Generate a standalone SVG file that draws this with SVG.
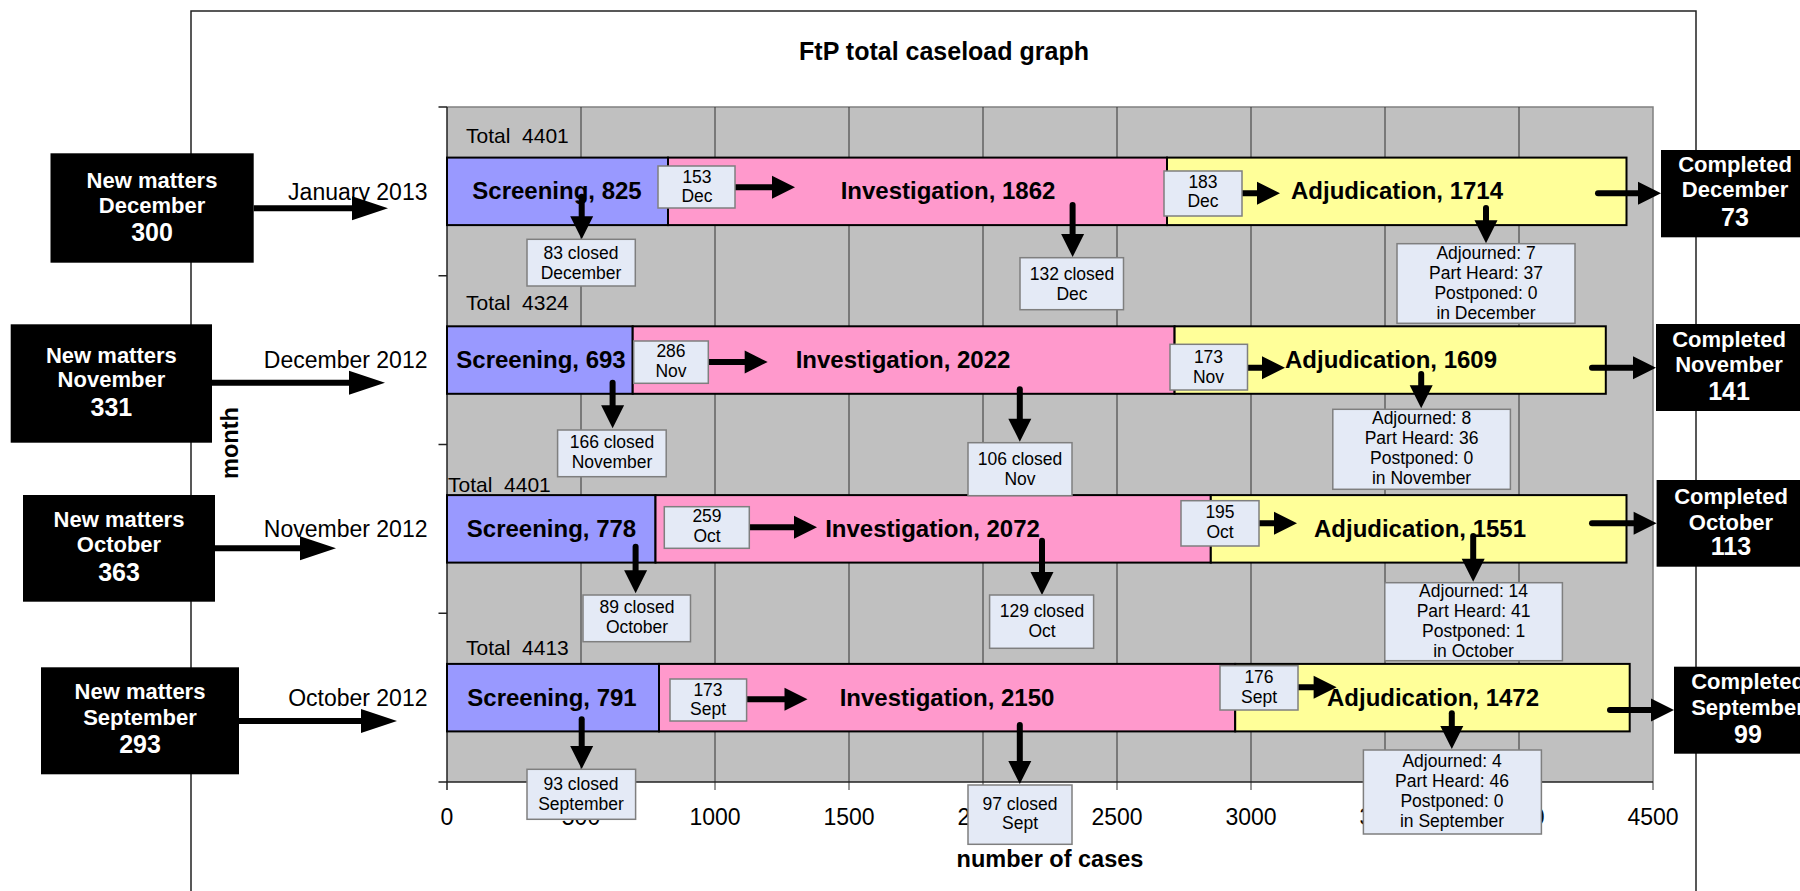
<svg xmlns="http://www.w3.org/2000/svg" width="1800" height="891" viewBox="0 0 1800 891">
<style>
text{font-family:"Liberation Sans",Arial,sans-serif;fill:#000}
.bar{stroke:#000;stroke-width:2}
.scr{fill:#9999FF}.inv{fill:#FF99CC}.adj{fill:#FFFF99}
.bl{font-size:24px;font-weight:bold;text-anchor:middle}
.mon{font-size:23px;text-anchor:end}
.tot{font-size:21px;white-space:pre}
.ax{font-size:23px;text-anchor:middle}
.axt{font-size:23.5px;font-weight:bold;text-anchor:middle}
.cb{fill:#E4EAF6;stroke:#7F7F7F;stroke-width:1.5}
.ct{font-size:17.5px;text-anchor:middle}
.bk{fill:#000}
.wt{fill:#fff;font-size:22px;font-weight:bold;text-anchor:middle}
.wn{fill:#fff;font-size:25px;font-weight:bold;text-anchor:middle}
.grid{stroke:#333;stroke-width:1}
.ar{stroke:#000;stroke-width:6;fill:none;stroke-linecap:round}
.arL{stroke:#000;stroke-width:6;fill:none}
</style>
<defs>
<marker id="ah" markerUnits="userSpaceOnUse" markerWidth="24" markerHeight="24" viewBox="0 -12 24 24" refX="0" refY="0" orient="auto" overflow="visible"><path d="M0,-11.5 L23,0 L0,11.5 z" fill="#000"/></marker>
<marker id="ahL" markerUnits="userSpaceOnUse" markerWidth="37" markerHeight="26" viewBox="0 -13 37 26" refX="0" refY="0" orient="auto" overflow="visible"><path d="M0,-12 L36,0 L0,12 z" fill="#000"/></marker>
</defs>
<rect width="1800" height="891" fill="#fff"/>
<!-- chart frame -->
<path d="M191,900 V11 H1696 V900" fill="none" stroke="#222" stroke-width="1.5"/>
<text x="944" y="60" font-size="25" font-weight="bold" text-anchor="middle">FtP total caseload graph</text>
<!-- plot area -->
<g id="plot">
<rect x="447" y="107" width="1206" height="675" fill="#C0C0C0"/>
<path d="M447,107 H1653 V782" fill="none" stroke="#808080" stroke-width="1.5"/>
<g class="grid">
<path d="M581,107V790M715,107V790M849,107V790M983,107V790M1117,107V790M1251,107V790M1385,107V790M1519,107V790M1653,782V790"/>
</g>
<path d="M447,107 V782 H1653" fill="none" stroke="#222" stroke-width="1.5"/>
<path d="M438.5,107H447M438.5,275.75H447M438.5,444.5H447M438.5,613.25H447M438.5,782H447M447,782V790" stroke="#222" stroke-width="1.5"/>
<g class="ax">
<text x="447" y="825">0</text><text x="581" y="825">500</text><text x="715" y="825">1000</text><text x="849" y="825">1500</text><text x="983" y="825">2000</text><text x="1117" y="825">2500</text><text x="1251" y="825">3000</text><text x="1385" y="825">3500</text><text x="1519" y="825">4000</text><text x="1653" y="825">4500</text>
</g>
<text class="axt" x="1050" y="866.7">number of cases</text>
<text class="axt" transform="translate(238,443) rotate(-90)">month</text>
</g>
<!-- rows -->
<g id="row-jan2013">
<text class="tot" x="466" y="142.7">Total  4401</text>
<rect class="bar scr" x="447" y="157.6" width="221" height="67.5"/>
<rect class="bar inv" x="668" y="157.6" width="499" height="67.5"/>
<rect class="bar adj" x="1167" y="157.6" width="459.5" height="67.5"/>
<text class="bl" x="557" y="199">Screening, 825</text>
<text class="bl" x="948" y="199">Investigation, 1862</text>
<text class="bl" x="1397" y="199">Adjudication, 1714</text>
<text class="mon" x="427.5" y="200">January 2013</text>
</g>
<g id="row-dec2012">
<text class="tot" x="466" y="310">Total  4324</text>
<rect class="bar scr" x="447" y="326.3" width="185.7" height="67.5"/>
<rect class="bar inv" x="632.7" y="326.3" width="541.9" height="67.5"/>
<rect class="bar adj" x="1174.6" y="326.3" width="431.2" height="67.5"/>
<text class="bl" x="541" y="368">Screening, 693</text>
<text class="bl" x="903" y="368">Investigation, 2022</text>
<text class="bl" x="1391" y="368">Adjudication, 1609</text>
<text class="mon" x="427.5" y="368.3">December 2012</text>
</g>
<g id="row-nov2012">
<text class="tot" x="448" y="492.3">Total  4401</text>
<rect class="bar scr" x="447" y="495.1" width="208.5" height="67.5"/>
<rect class="bar inv" x="655.5" y="495.1" width="555.3" height="67.5"/>
<rect class="bar adj" x="1210.8" y="495.1" width="415.7" height="67.5"/>
<text class="bl" x="551.5" y="537">Screening, 778</text>
<text class="bl" x="932.5" y="537">Investigation, 2072</text>
<text class="bl" x="1420" y="537">Adjudication, 1551</text>
<text class="mon" x="427.5" y="537.3">November 2012</text>
</g>
<g id="row-oct2012">
<text class="tot" x="466" y="655">Total  4413</text>
<rect class="bar scr" x="447" y="663.9" width="212" height="67.5"/>
<rect class="bar inv" x="659" y="663.9" width="576.2" height="67.5"/>
<rect class="bar adj" x="1235.2" y="663.9" width="394.5" height="67.5"/>
<text class="bl" x="552" y="706">Screening, 791</text>
<text class="bl" x="947" y="706">Investigation, 2150</text>
<text class="bl" x="1433" y="706">Adjudication, 1472</text>
<text class="mon" x="427.5" y="706">October 2012</text>
</g>
<!-- connectors -->
<g id="connectors">
<path class="arL" d="M253.7,208.3H352" marker-end="url(#ahL)"/>
<path class="arL" d="M212,382.7H349" marker-end="url(#ahL)"/>
<path class="arL" d="M215,548.3H300" marker-end="url(#ahL)"/>
<path class="arL" d="M239,721H361" marker-end="url(#ahL)"/>
<path class="ar" d="M734,187.3H772" marker-end="url(#ah)"/>
<path class="ar" d="M1242,193.3H1257" marker-end="url(#ah)"/>
<path class="ar" d="M1598,193.3H1638" marker-end="url(#ah)"/>
<path class="ar" d="M581.7,196.7V216.3" marker-end="url(#ah)"/>
<path class="ar" d="M1072.6,205V234" marker-end="url(#ah)"/>
<path class="ar" d="M1486,208V220.3" marker-end="url(#ah)"/>
<path class="ar" d="M708,362H744.7" marker-end="url(#ah)"/>
<path class="ar" d="M1247,367.7H1262" marker-end="url(#ah)"/>
<path class="ar" d="M1592,367.7H1633" marker-end="url(#ah)"/>
<path class="ar" d="M612.6,382.7V405.3" marker-end="url(#ah)"/>
<path class="ar" d="M1019.8,389.3V418.7" marker-end="url(#ah)"/>
<path class="ar" d="M1421.2,374V385.3" marker-end="url(#ah)"/>
<path class="ar" d="M749,527.3H794" marker-end="url(#ah)"/>
<path class="ar" d="M1259,523.3H1274" marker-end="url(#ah)"/>
<path class="ar" d="M1592,523.3H1633.6" marker-end="url(#ah)"/>
<path class="ar" d="M635.6,546.7V570.3" marker-end="url(#ah)"/>
<path class="ar" d="M1042,540.7V572" marker-end="url(#ah)"/>
<path class="ar" d="M1473.2,536V558.7" marker-end="url(#ah)"/>
<path class="ar" d="M746,699.3H784.5" marker-end="url(#ah)"/>
<path class="ar" d="M1298,687.3H1313.6" marker-end="url(#ah)"/>
<path class="ar" d="M1610,710H1651" marker-end="url(#ah)"/>
<path class="ar" d="M581.7,719.3V746" marker-end="url(#ah)"/>
<path class="ar" d="M1019.8,725V761" marker-end="url(#ah)"/>
<path class="ar" d="M1451.8,713.3V726" marker-end="url(#ah)"/>
</g>
<!-- new matters -->
<g id="new-dec"><rect class="bk" x="50.5" y="153.3" width="203.2" height="109.4"/><text class="wt" x="152" y="188.3">New matters</text><text class="wt" x="152" y="213.3">December</text><text class="wn" x="152" y="240.7">300</text></g>
<g id="new-nov"><rect class="bk" x="10.7" y="324.3" width="201.3" height="118.4"/><text class="wt" x="111.4" y="362.7">New matters</text><text class="wt" x="111.4" y="387.3">November</text><text class="wn" x="111.4" y="415.7">331</text></g>
<g id="new-oct"><rect class="bk" x="23" y="495" width="192" height="106.7"/><text class="wt" x="119" y="527.3">New matters</text><text class="wt" x="119" y="552.3">October</text><text class="wn" x="119" y="580.7">363</text></g>
<g id="new-sep"><rect class="bk" x="41" y="667.3" width="198" height="107"/><text class="wt" x="140" y="699.3">New matters</text><text class="wt" x="140" y="725">September</text><text class="wn" x="140" y="752.7">293</text></g>
<!-- completed -->
<g id="comp-dec"><rect class="bk" x="1661" y="150" width="148" height="87.3"/><text class="wt" x="1735" y="171.7">Completed</text><text class="wt" x="1735" y="197.3">December</text><text class="wn" x="1735" y="226">73</text></g>
<g id="comp-nov"><rect class="bk" x="1656" y="324" width="148" height="87"/><text class="wt" x="1729" y="346.7">Completed</text><text class="wt" x="1729" y="371.7">November</text><text class="wn" x="1729" y="400">141</text></g>
<g id="comp-oct"><rect class="bk" x="1656.6" y="480" width="148" height="86.7"/><text class="wt" x="1731" y="504">Completed</text><text class="wt" x="1731" y="530">October</text><text class="wn" x="1731" y="555">113</text></g>
<g id="comp-sep"><rect class="bk" x="1674" y="666.7" width="148" height="87"/><text class="wt" x="1748" y="689.3">Completed</text><text class="wt" x="1748" y="715">September</text><text class="wn" x="1748" y="742.7">99</text></g>
<!-- callouts row 1 -->
<g id="c-153-dec"><rect class="cb" x="658" y="166" width="77" height="42"/><text class="ct" x="697" y="182.7">153</text><text class="ct" x="697" y="202.3">Dec</text></g>
<g id="c-83-closed"><rect class="cb" x="527" y="239.3" width="108.3" height="46.7"/><text class="ct" x="581" y="258.5">83 closed</text><text class="ct" x="581" y="278.5">December</text></g>
<g id="c-132-closed"><rect class="cb" x="1020" y="257.7" width="103.5" height="52"/><text class="ct" x="1072" y="280">132 closed</text><text class="ct" x="1072" y="300">Dec</text></g>
<g id="c-183-dec"><rect class="cb" x="1164" y="171" width="78" height="45"/><text class="ct" x="1203" y="188.3">183</text><text class="ct" x="1203" y="207.3">Dec</text></g>
<g id="c-adj-dec"><rect class="cb" x="1397" y="243.7" width="178" height="79.6"/><text class="ct" x="1486" y="259.3">Adjourned: 7</text><text class="ct" x="1486" y="279.3">Part Heard: 37</text><text class="ct" x="1486" y="299.3">Postponed: 0</text><text class="ct" x="1486" y="319.3">in December</text></g>
<!-- callouts row 2 -->
<g id="c-286-nov"><rect class="cb" x="633.7" y="341" width="74.6" height="42.3"/><text class="ct" x="671" y="357.3">286</text><text class="ct" x="671" y="377.3">Nov</text></g>
<g id="c-166-closed"><rect class="cb" x="557.6" y="430" width="108.6" height="46.7"/><text class="ct" x="612" y="448.3">166 closed</text><text class="ct" x="612" y="468.3">November</text></g>
<g id="c-106-closed"><rect class="cb" x="968" y="442.7" width="104" height="53"/><text class="ct" x="1020" y="465">106 closed</text><text class="ct" x="1020" y="485">Nov</text></g>
<g id="c-173-nov"><rect class="cb" x="1170" y="344.3" width="77.5" height="45.7"/><text class="ct" x="1208.5" y="363.3">173</text><text class="ct" x="1208.5" y="382.7">Nov</text></g>
<g id="c-adj-nov"><rect class="cb" x="1332.8" y="409.3" width="177.6" height="80"/><text class="ct" x="1421.6" y="424.3">Adjourned: 8</text><text class="ct" x="1421.6" y="444.3">Part Heard: 36</text><text class="ct" x="1421.6" y="464.3">Postponed: 0</text><text class="ct" x="1421.6" y="484.3">in November</text></g>
<!-- callouts row 3 -->
<g id="c-259-oct"><rect class="cb" x="664.3" y="506.7" width="85" height="41.6"/><text class="ct" x="707" y="522.3">259</text><text class="ct" x="707" y="542.3">Oct</text></g>
<g id="c-89-closed"><rect class="cb" x="583" y="595" width="107.5" height="46.7"/><text class="ct" x="637" y="612.7">89 closed</text><text class="ct" x="637" y="632.5">October</text></g>
<g id="c-129-closed"><rect class="cb" x="989.6" y="595" width="104" height="53.3"/><text class="ct" x="1042" y="616.7">129 closed</text><text class="ct" x="1042" y="637.3">Oct</text></g>
<g id="c-195-oct"><rect class="cb" x="1181" y="500.7" width="78" height="45.3"/><text class="ct" x="1220" y="518.3">195</text><text class="ct" x="1220" y="538.3">Oct</text></g>
<g id="c-adj-oct"><rect class="cb" x="1384.8" y="582.7" width="177.6" height="78"/><text class="ct" x="1473.6" y="597.3">Adjourned: 14</text><text class="ct" x="1473.6" y="617.3">Part Heard: 41</text><text class="ct" x="1473.6" y="637.3">Postponed: 1</text><text class="ct" x="1473.6" y="657.3">in October</text></g>
<!-- callouts row 4 -->
<g id="c-173-sept"><rect class="cb" x="670" y="679" width="76.6" height="42"/><text class="ct" x="708" y="695.7">173</text><text class="ct" x="708" y="715">Sept</text></g>
<g id="c-93-closed"><rect class="cb" x="527" y="769.3" width="108.6" height="50"/><text class="ct" x="581" y="790">93 closed</text><text class="ct" x="581" y="810">September</text></g>
<g id="c-97-closed"><rect class="cb" x="968" y="785" width="104" height="59.3"/><text class="ct" x="1020" y="810">97 closed</text><text class="ct" x="1020" y="829.3">Sept</text></g>
<g id="c-176-sept"><rect class="cb" x="1220" y="665.7" width="78" height="44.3"/><text class="ct" x="1259" y="683.3">176</text><text class="ct" x="1259" y="702.7">Sept</text></g>
<g id="c-adj-sep"><rect class="cb" x="1363.4" y="750" width="178" height="84"/><text class="ct" x="1452" y="766.7">Adjourned: 4</text><text class="ct" x="1452" y="786.7">Part Heard: 46</text><text class="ct" x="1452" y="806.7">Postponed: 0</text><text class="ct" x="1452" y="826.7">in September</text></g>
</svg>
